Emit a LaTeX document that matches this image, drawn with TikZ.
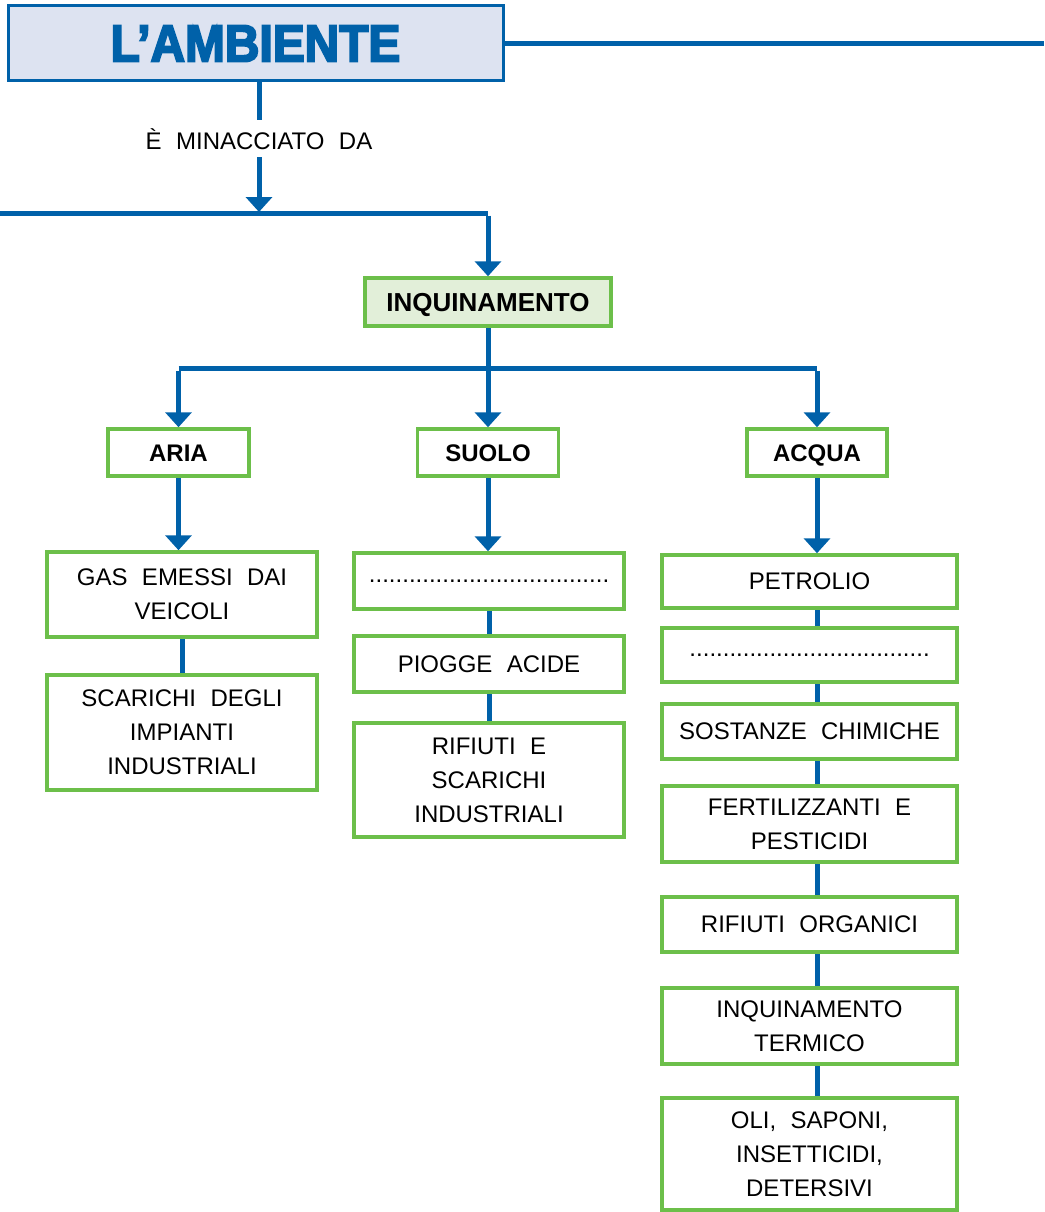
\documentclass[tikz,border=0pt]{standalone}
\usepackage{fontspec}
\setmainfont{Liberation Sans}
\newfontfamily\titlefont[FakeBold=4]{Liberation Sans Bold}
\usetikzlibrary{arrows.meta}
\definecolor{lblue}{HTML}{0061A9}
\definecolor{tfill}{HTML}{DDE3F1}
\definecolor{lgreen}{HTML}{6CBF4A}
\definecolor{gfill}{HTML}{E2EFD9}
\pgfdeclarelayer{bg}
\pgfsetlayers{bg,main}
\tikzset{
  x=1pt, y=-1pt,
  conn/.style={draw=lblue, line width=5pt},
  arr/.style={conn, -{Triangle[width=26pt,length=15pt]}},
  gbox/.style={draw=lgreen, line width=3.5pt, fill=white, align=center, inner sep=0pt,
    font=\fontsize{24}{34}\selectfont},
  lab/.style={gbox, font=\fontsize{24}{30}\selectfont\bfseries, text height=17.2pt, text depth=0pt},
}
\newcommand{\wsp}{\hspace{0.6em}}
\newcommand{\dotrow}{....................................}
\begin{document}
\begin{tikzpicture}
\useasboundingbox (0,0) rectangle (1044,1212);
% title
\node[draw=lblue, line width=3pt, fill=tfill, minimum width=495pt, minimum height=75pt, inner sep=0pt]
  (title) at (255.5,43.5) {\color{lblue}\titlefont\fontsize{52}{52}\selectfont\scalebox{0.92}[1]{L’AMBIENTE}};
\coordinate (tright) at (1044,43.5);
\node[font=\fontsize{24}{30}\selectfont, inner sep=0pt] (mina) at (259,139) {È\wsp MINACCIATO\wsp DA};
\coordinate (hl) at (0,213);
\coordinate (hr) at (488,213);
% inquinamento
\node[lab, fill=gfill, minimum width=246pt, minimum height=48pt, font=\fontsize{26}{30}\selectfont\bfseries, text height=18.6pt] (inq) at (488,302) {INQUINAMENTO};
\node[lab, minimum width=141pt, minimum height=47pt] (aria) at (178.5,452.5) {ARIA};
\node[lab, minimum width=141pt, minimum height=47pt] (suolo) at (488,452.5) {SUOLO};
\node[lab, minimum width=140pt, minimum height=47pt] (acqua) at (817,452.5) {ACQUA};
\coordinate (split) at (488,368);
% left column
\node[gbox, minimum width=270pt, minimum height=85pt] (gas) at (182,594.5) {GAS\wsp EMESSI\wsp DAI\\VEICOLI};
\node[gbox, minimum width=270pt, minimum height=115pt] (scar) at (182,732.5) {SCARICHI\wsp DEGLI\\IMPIANTI\\INDUSTRIALI};
% middle column
\node[gbox, minimum width=270pt, minimum height=56pt] (mdot) at (489,581) {\dotrow};
\node[gbox, minimum width=270pt, minimum height=56pt] (piog) at (489,664) {PIOGGE\wsp ACIDE};
\node[gbox, minimum width=270pt, minimum height=114pt] (rif) at (489,780) {RIFIUTI\wsp E\\SCARICHI\\INDUSTRIALI};
% right column
\node[gbox, minimum width=295pt, minimum height=53pt] (petr) at (809.5,581.5) {PETROLIO};
\node[gbox, minimum width=295pt, minimum height=54pt] (rdot) at (809.5,655) {\dotrow};
\node[gbox, minimum width=295pt, minimum height=55pt] (sost) at (809.5,731.5) {SOSTANZE\wsp CHIMICHE};
\node[gbox, minimum width=295pt, minimum height=76pt] (fert) at (809.5,824) {FERTILIZZANTI\wsp E\\PESTICIDI};
\node[gbox, minimum width=295pt, minimum height=55pt] (rorg) at (809.5,924.5) {RIFIUTI\wsp ORGANICI};
\node[gbox, minimum width=295pt, minimum height=76pt] (term) at (809.5,1026) {INQUINAMENTO\\TERMICO};
\node[gbox, minimum width=295pt, minimum height=112pt] (oli) at (809.5,1154) {OLI,\wsp SAPONI,\\INSETTICIDI,\\DETERSIVI};
% connectors
\begin{pgfonlayer}{bg}
\draw[conn] (title.east) -- (title.east -| tright);
\draw[conn] (title.south -| mina) -- (mina.north |- 0,120);
\draw[arr] (mina.south |- 0,157) -- (mina.south |- 0,212);
\draw[conn] (hl) -- (hr);
\draw[arr] ([yshift=-2.5pt]hr) -- (inq.north);
\draw[arr] (inq.south) -- (suolo.north);
\draw[conn] (split -| aria) -- (split -| acqua);
\draw[arr] ([yshift=-2.5pt]split -| aria) -- (aria.north);
\draw[arr] ([yshift=-2.5pt]split -| acqua) -- (acqua.north);
\draw[arr] (aria.south) -- (aria.south |- gas.north);
\draw[arr] (suolo.south) -- (suolo.south |- mdot.north);
\draw[arr] (acqua.south) -- (acqua.south |- petr.north);
\draw[conn] (gas.south) -- (scar.north);
\draw[conn] (mdot.south) -- (piog.north);
\draw[conn] (piog.south) -- (rif.north);
\draw[conn] (petr.south -| acqua) -- (rdot.north -| acqua);
\draw[conn] (rdot.south -| acqua) -- (sost.north -| acqua);
\draw[conn] (sost.south -| acqua) -- (fert.north -| acqua);
\draw[conn] (fert.south -| acqua) -- (rorg.north -| acqua);
\draw[conn] (rorg.south -| acqua) -- (term.north -| acqua);
\draw[conn] (term.south -| acqua) -- (oli.north -| acqua);
\end{pgfonlayer}
\end{tikzpicture}
\end{document}
